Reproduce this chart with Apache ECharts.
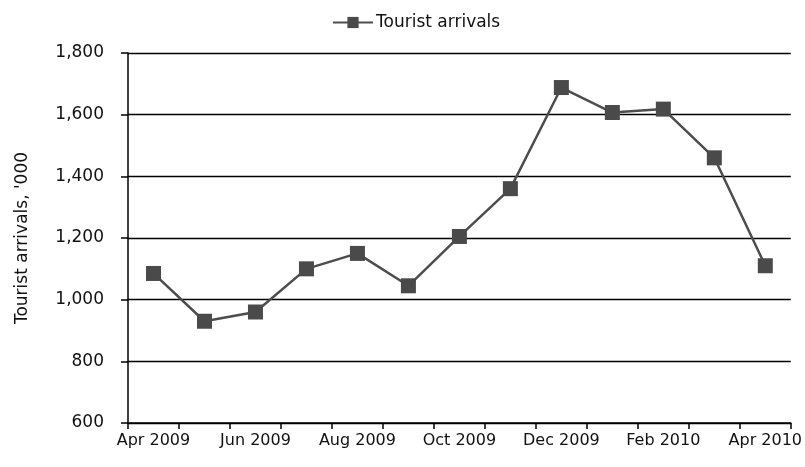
<!DOCTYPE html>
<html>
<head>
<meta charset="utf-8">
<script src="https://cdn.jsdelivr.net/npm/echarts@6/dist/echarts.min.js"></script>
<style>
  html, body { margin: 0; padding: 0; background: #fff; }
  #chart { width: 805px; height: 467px; }
</style>
</head>
<body>
<div id="chart"></div>
<script>
// Monthly tourist arrivals, thousands
const months = ['Apr 2009', 'May 2009', 'Jun 2009', 'Jul 2009', 'Aug 2009', 'Sep 2009',
  'Oct 2009', 'Nov 2009', 'Dec 2009', 'Jan 2010', 'Feb 2010', 'Mar 2010', 'Apr 2010'];
const arrivals = [1085, 930, 960, 1100, 1150, 1045, 1205, 1360, 1688, 1607, 1618, 1460, 1110];
const seriesName = 'Tourist arrivals';
const yAxisName = "Tourist arrivals, '000";

const FONT = 'DejaVu Sans';
const TEXT = '#111111';
const chart = echarts.init(document.getElementById('chart'), null, { renderer: 'canvas' });
chart.setOption({
  backgroundColor: '#ffffff',
  animation: false,
  textStyle: { fontFamily: FONT },
  legend: {
    data: [seriesName],
    top: 9,
    left: 327,
    itemWidth: 40,
    itemHeight: 14,
    itemGap: 4,
    textStyle: { fontFamily: FONT, fontSize: 17, color: TEXT, padding: [0, 0, 0, -2] }
  },
  grid: { left: 128, right: 13, top: 53, bottom: 44, containLabel: false },
  xAxis: {
    type: 'category',
    data: months,
    boundaryGap: true,
    axisLine: { lineStyle: { color: '#000', width: 1.5 } },
    axisTick: { show: true, length: 6, interval: 0, lineStyle: { color: '#000', width: 1.5 } },
    axisLabel: { interval: 1, margin: 10, fontFamily: FONT, fontSize: 16, color: TEXT },
    splitLine: { show: false }
  },
  yAxis: {
    type: 'value',
    min: 600,
    max: 1800,
    interval: 200,
    name: yAxisName,
    nameLocation: 'middle',
    nameRotate: 90,
    nameGap: 97,
    nameTextStyle: { fontFamily: FONT, fontSize: 17, color: TEXT },
    axisLine: { show: true, lineStyle: { color: '#000', width: 1.5 } },
    axisTick: { show: true, length: 7, lineStyle: { color: '#000', width: 1.5 } },
    axisLabel: {
      margin: 24, fontFamily: FONT, fontSize: 17, color: TEXT,
      formatter: v => v.toLocaleString('en-US')
    },
    splitLine: { show: true, lineStyle: { color: '#000', width: 1.4 } }
  },
  series: [{
    name: seriesName,
    type: 'line',
    data: arrivals,
    symbol: 'rect',
    symbolSize: 15,
    itemStyle: { color: '#4a4a4a' },
    lineStyle: { color: '#4d4d4d', width: 2.5 }
  }]
});
</script>
</body>
</html>
